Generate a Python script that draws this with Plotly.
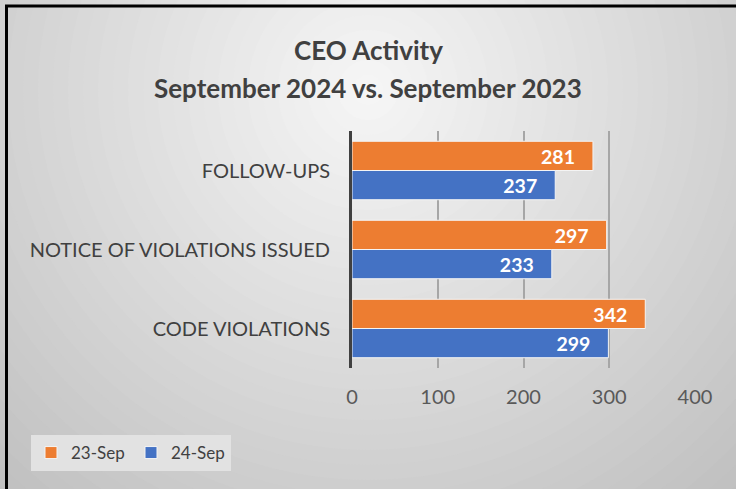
import plotly.graph_objects as go

categories = ["FOLLOW-UPS", "NOTICE OF VIOLATIONS ISSUED", "CODE VIOLATIONS"]
sep23 = [281, 297, 342]
sep24 = [237, 233, 299]
series_names = ["23-Sep", "24-Sep"]
x_ticks = [0, 100, 200, 300, 400]
title_lines = ["CEO Activity", "September 2024 vs. September 2023"]

W, H = 736, 489
L, R, T, B = 352, 695, 131, 368
PW, PH = R - L, B - T

def px(x):
    return (x - L) / PW

def py(y):
    return (B - y) / PH

FONT = "Lato"
PAD = "\u00a0\u00a0\u00a0"
fig = go.Figure()
fig.add_trace(go.Bar(
    y=categories, x=sep23, name=series_names[0], orientation="h",
    marker=dict(color="#ED7D31", line=dict(color="#f4f4f4", width=1)),
    texttemplate="<b>%{x}</b>" + PAD, textposition="inside", insidetextanchor="end",
    textfont=dict(color="white", size=21, family=FONT),
))
fig.add_trace(go.Bar(
    y=categories, x=sep24, name=series_names[1], orientation="h",
    marker=dict(color="#4472C4", line=dict(color="#f4f4f4", width=1)),
    texttemplate="<b>%{x}</b>" + PAD, textposition="inside", insidetextanchor="end",
    textfont=dict(color="white", size=21, family=FONT),
))

shapes = []
# radial gradient background
cx, cy = 368, 90
step = 15
r = 660
while r > 0:
    lum = int(max(188, min(247, 247 - 0.1 * r)))
    col = f"rgb({lum},{lum},{lum})"
    shapes.append(dict(type="circle", xref="paper", yref="paper",
                       x0=px(cx - r), x1=px(cx + r), y0=py(cy + r), y1=py(cy - r),
                       fillcolor=col, line=dict(width=0), layer="below"))
    r -= step
# chart border (top and left visible)
shapes.append(dict(type="line", xref="paper", yref="paper", x0=px(5), x1=px(736),
                   y0=py(6), y1=py(6), line=dict(color="black", width=3)))
shapes.append(dict(type="line", xref="paper", yref="paper", x0=px(6.5), x1=px(6.5),
                   y0=py(5), y1=py(489), line=dict(color="black", width=3)))

annotations = [
    dict(text=f"<b>{title_lines[0]}</b>", x=px(368), y=py(50), xref="paper", yref="paper",
         showarrow=False, xanchor="center", yanchor="middle",
         font=dict(size=26, color="#404040", family=FONT)),
    dict(text=f"<b>{title_lines[1]}</b>", x=px(368), y=py(88), xref="paper", yref="paper",
         showarrow=False, xanchor="center", yanchor="middle",
         font=dict(size=26, color="#404040", family=FONT)),
]

fig.update_layout(
    width=W, height=H,
    margin=dict(l=L, r=W - R, t=T, b=H - B),
    paper_bgcolor="#d8d8d8", plot_bgcolor="rgba(0,0,0,0)",
    barmode="group", bargap=0.26, bargroupgap=0.0,
    shapes=shapes, annotations=annotations,
    showlegend=True,
    legend=dict(orientation="h", x=px(31), y=py(435), xanchor="left", yanchor="top",
                bgcolor="#e2e2e2", font=dict(size=17, color="#404040", family=FONT),
                traceorder="normal", itemwidth=30, entrywidth=55, entrywidthmode="pixels"),
    font=dict(family=FONT),
)
fig.update_xaxes(range=[0, 400], tickvals=x_ticks, showgrid=True, gridcolor="#a6a6a6",
                 gridwidth=1.5, zeroline=False, showline=False, ticks="",
                 tickfont=dict(size=20, color="#595959", family=FONT), ticklabelstandoff=15)
fig.update_yaxes(autorange="reversed", showline=True, linecolor="#404040", linewidth=3,
                 ticks="", showgrid=False,
                 tickfont=dict(size=20, color="#404040", family=FONT), ticklabelstandoff=15)

fig.write_html(
    "out.html", config={"displayModeBar": False},
    post_script=(
        "document.body.style.margin='0';document.body.style.overflow='hidden';"
        "document.documentElement.style.overflow='hidden';"
        "var g=document.getElementById('{plot_id}');"
        "g.style.position='fixed';g.style.left='0';g.style.top='0';"
    ),
)
